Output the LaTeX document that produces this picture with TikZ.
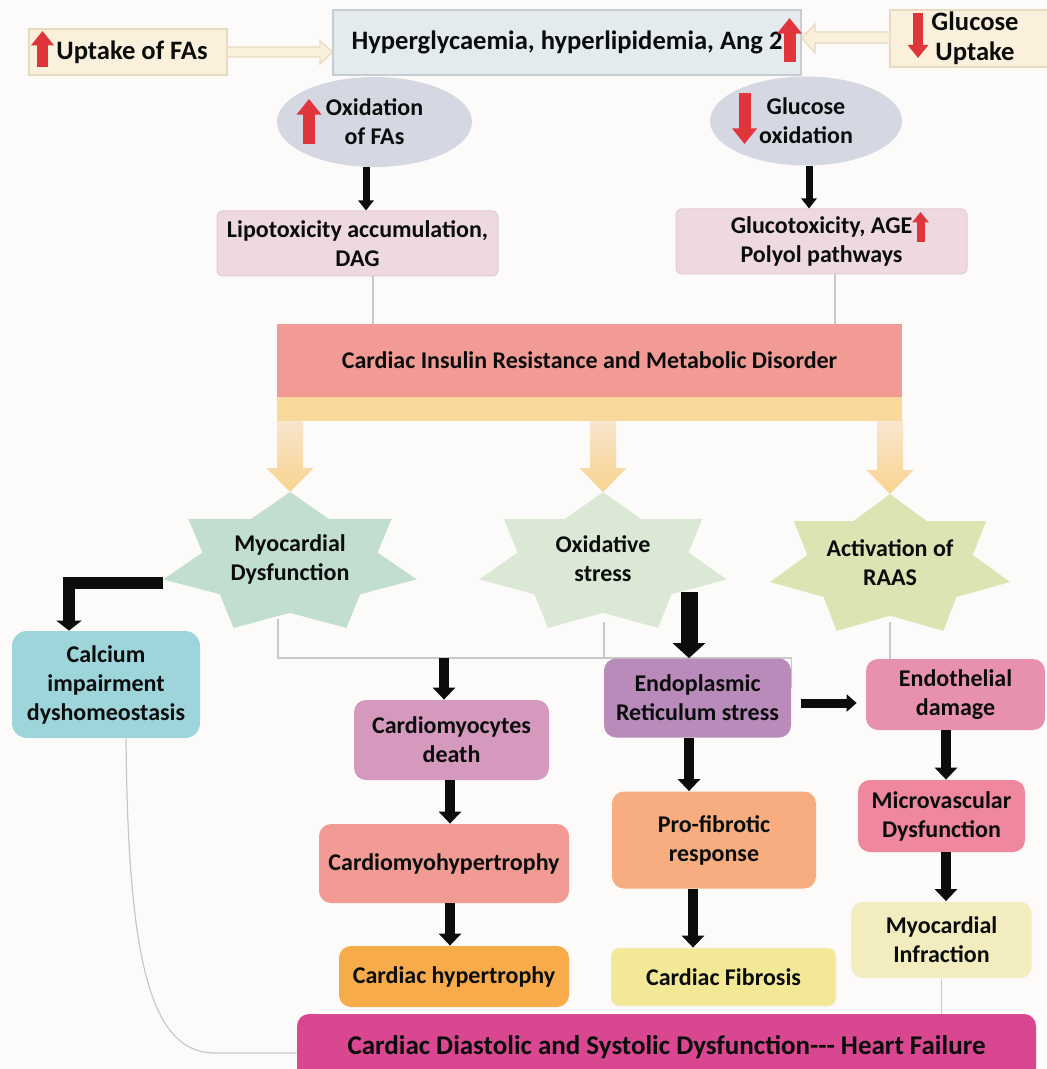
\documentclass[tikz,border=0pt]{standalone}
\usepackage{fontspec}
\setmainfont{Carlito}
\usetikzlibrary{arrows.meta,positioning,calc,shapes.geometric,backgrounds}
\definecolor{ink}{HTML}{0B0D0C}
\definecolor{paper}{HTML}{FCFBF9}
\definecolor{mist}{HTML}{E4EBEE}
\definecolor{mistline}{HTML}{C6CCD0}
\definecolor{cream}{HTML}{FAF0DC}
\definecolor{creamline}{HTML}{E6DBBF}
\definecolor{lilac}{HTML}{D5D8E3}
\definecolor{blush}{HTML}{EDD9DF}
\definecolor{blushline}{HTML}{E2CCD3}
\definecolor{salmon}{HTML}{F29A94}
\definecolor{bandor}{HTML}{F9D89B}
\definecolor{fadeor}{HTML}{F8E6CF}
\definecolor{deepor}{HTML}{F9D38F}
\definecolor{mintstar}{HTML}{C2DED0}
\definecolor{sagestar}{HTML}{DCE8D6}
\definecolor{olivestar}{HTML}{DCE4B4}
\definecolor{aqua}{HTML}{9DD5DB}
\definecolor{orchid}{HTML}{D699BE}
\definecolor{amber}{HTML}{F7AB4A}
\definecolor{plum}{HTML}{B98BBB}
\definecolor{peach}{HTML}{F7AD80}
\definecolor{lemon}{HTML}{F3E895}
\definecolor{rosy}{HTML}{E790B0}
\definecolor{coral}{HTML}{EF889E}
\definecolor{vanilla}{HTML}{F3ECBF}
\definecolor{magenta}{HTML}{D8478F}
\definecolor{alert}{HTML}{E0353B}
\definecolor{feedline}{HTML}{C8C8C8}
\newcommand{\bigfont}{\bfseries\fontsize{13.3}{15}\selectfont}
\newcommand{\midfont}{\bfseries\fontsize{12}{14.5}\selectfont}
% seven pointed star, stretched: fill, centre, x radius, y radius
\newcommand{\heptastar}[4]{%
  \fill[#1,shift={(#2)}] (-90:#3 and #4)
    \foreach \k [evaluate=\k as \fac using {ifthenelse(mod(\k,2)==0,1,0.69)}] in {1,...,13}
      { -- ({-90+\k*180/7}:{\fac*#3} and {\fac*#4}) } -- cycle;}
% broad shaded arrow hanging from the orange band
\newcommand{\fatdown}[1]{%
  \shade[top color=fadeor,bottom color=deepor] (#1) -- ++(-23.5,-24) -- ++(10.5,0) -- ++(0,-50)
    -- ++(26,0) -- ++(0,50) -- ++(10.5,0) -- cycle;}
\tikzset{
  >=Latex,
  every node/.style={font=\bfseries\fontsize{12}{14.5}\selectfont,text=ink,align=center,inner sep=0pt},
  plate/.style={draw=none,rounded corners=6pt},
  oval/.style={ellipse,fill=lilac,draw=none},
  feed/.style={draw=feedline,line width=0.6pt},
  blk/.style={draw=ink,line width=5pt,-{Triangle[width=11pt,length=6pt]}},
  thinblk/.style={draw=ink,line width=3.5pt,-{Triangle[width=7.5pt,length=5pt]}},
  fatblk/.style={draw=ink,line width=8.5pt,-{Triangle[width=16pt,length=7.5pt]}},
  elbowblk/.style={draw=ink,line width=6pt,-{Triangle[width=12.5pt,length=5pt]}},
  sideblk/.style={draw=ink,line width=4.5pt,-{Triangle[width=8.5pt,length=5pt]}},
  upmark/.style={draw=alert,line width=#1,-{Triangle[width=2*#1,length=1.3*#1]}},
  blockarr/.style={fill=cream,draw=creamline,line width=0.6pt}
}
\begin{document}
\begin{tikzpicture}[x=0.5pt,y=-0.5pt]
  \useasboundingbox (0,0) rectangle (1047,1069);

  % inputs
  \node[plate,rounded corners=0pt,fill=mist,draw=mistline,line width=0.7pt,minimum width=234pt,minimum height=32.5pt,font=\bigfont] (hyper) at (567,42.5) {Hyperglycaemia, hyperlipidemia, Ang 2};
  \node[plate,rounded corners=0pt,fill=cream,draw=creamline,line width=0.6pt,minimum width=99pt,minimum height=23pt,font=\bigfont] (upfa) at (128,52) {\hspace*{4pt}Uptake of FAs};
  \node[plate,rounded corners=0pt,fill=cream,draw=creamline,line width=0.6pt,minimum width=85pt,minimum height=28.5pt,font=\bigfont] (glup) at (975,38.5) {Glucose\\Uptake};

  \draw[blockarr] (upfa.east |- 0,47) -- (320,47) -- (320,41) -- (hyper.west |- 0,52) -- (320,64) -- (320,57) -- (upfa.east |- 0,57);
  \draw[blockarr] (glup.west |- 0,32) -- (815,32) -- (815,24) -- (hyper.east |- 0,38) -- (815,53) -- (815,43) -- (glup.west |- 0,43);

  \node[oval,minimum width=97.5pt,minimum height=45pt] (oxfa) at (374.5,122) {Oxidation\\of FAs};
  \node[oval,minimum width=96pt,minimum height=44.5pt] (gox) at (806,121) {Glucose\\oxidation};

  \node[plate,rounded corners=3pt,fill=blush,draw=blushline,line width=0.5pt,minimum width=140.5pt,minimum height=32.5pt] (lipo) at (357.5,243.5) {Lipotoxicity accumulation,\\DAG};
  \node[plate,rounded corners=3pt,fill=blush,draw=blushline,line width=0.5pt,minimum width=145.5pt,minimum height=32.5pt] (gluco) at (821.5,241.5) {Glucotoxicity, AGE\\Polyol pathways};

  \node[plate,rounded corners=0pt,fill=salmon,minimum width=312.5pt,minimum height=36.5pt,font=\midfont] (cir) at (589.5,360.5) {Cardiac Insulin Resistance and Metabolic Disorder};

  % branches
  \coordinate (myoT) at (290,492);
  \coordinate (oxT) at (603,492);
  \coordinate (raasT) at (890,494);
  \fatdown{myoT}
  \fatdown{oxT}
  \fatdown{raasT}
  \fill[bandor] (cir.south west) rectangle ($(cir.south east)+(0,24)$);

  \heptastar{mintstar}{290,563.5}{130}{71.5}
  \heptastar{sagestar}{603,563.5}{127}{71.5}
  \heptastar{olivestar}{890,566}{123}{72}
  \node (myo) at (290,559) {Myocardial\\Dysfunction};
  \node (oxs) at (603,559) {Oxidative\\stress};
  \node (raas) at (890,562.5) {Activation of\\RAAS};
  \coordinate (myoL) at (163,583);
  \coordinate (myoB) at (278,619);
  \coordinate (oxB) at (604,622);
  \coordinate (oxS) at (689,592);
  \coordinate (raasB) at (890,622);
  \coordinate (jn) at (444,658);

  % outcomes
  \node[plate,rounded corners=7.5pt,fill=aqua,minimum width=94pt,minimum height=53.5pt] (calcium) at (106,684.5) {Calcium\\impairment\\dyshomeostasis};
  \node[plate,fill=orchid,minimum width=97.5pt,minimum height=40pt] (cmd) at (451.5,740) {Cardiomyocytes\\death};
  \node[plate,fill=salmon,minimum width=125pt,minimum height=39.5pt] (cmh) at (444,863.5) {Cardiomyohypertrophy};
  \node[plate,fill=amber,minimum width=115pt,minimum height=30.5pt] (chyp) at (454,976.5) {Cardiac hypertrophy};
  \node[plate,fill=plum,minimum width=93.5pt,minimum height=39.5pt] (er) at (697.5,698) {Endoplasmic\\Reticulum stress};
  \node[plate,fill=peach,minimum width=102pt,minimum height=48.5pt] (pfr) at (714,840) {Pro-fibrotic\\response};
  \node[plate,rounded corners=4pt,fill=lemon,draw=lemon!80!black!20,minimum width=112.5pt,minimum height=29pt] (fib) at (723.5,977) {Cardiac Fibrosis};
  \node[plate,fill=rosy,minimum width=89.5pt,minimum height=35.5pt] (endoth) at (955.5,694.5) {Endothelial\\damage};
  \node[plate,fill=coral,minimum width=83.5pt,minimum height=36pt] (mvd) at (941.5,816) {Microvascular\\Dysfunction};
  \node[plate,fill=vanilla,draw=vanilla!85!black!15,minimum width=90.5pt,minimum height=38.5pt] (mi) at (941.5,940) {Myocardial\\Infraction};
  \node[plate,fill=magenta,minimum width=369.5pt,minimum height=33pt,font=\bfseries\fontsize{13.5}{16}\selectfont] (hf) at (666.5,1047) {Cardiac Diastolic and Systolic Dysfunction-{}-{}- Heart Failure};

  % red marks
  \draw[upmark=5.5pt] (42.5,67) -- (42.5,31);
  \draw[upmark=6pt] (789.5,62) -- (789.5,18);
  \draw[upmark=5pt] (918,13) -- (918,58);
  \draw[upmark=6pt] (309,144) -- (309,99);
  \draw[upmark=6pt] (744.5,93) -- (744.5,144);
  \draw[upmark=4pt] (920.5,242) -- (920.5,212);

  % black connectors
  \draw[thinblk] (366,0 |- oxfa.south) -- (366,0 |- lipo.north);
  \draw[thinblk] (809,0 |- gox.south) -- (809,0 |- gluco.north);
  \draw[elbowblk] (myoL) -| (69,0 |- calcium.north);
  \draw[blk] (jn) -- (jn |- cmd.north);
  \draw[fatblk] (oxS) -- (oxS |- er.north);
  \draw[blk] (450,0 |- cmd.south) -- (450,0 |- cmh.north);
  \draw[blk] (450,0 |- cmh.south) -- (450,0 |- chyp.north);
  \draw[blk] (689,0 |- er.south) -- (689,0 |- pfr.north);
  \draw[blk] (693,0 |- pfr.south) -- (693,0 |- fib.north);
  \draw[sideblk] ($(er.east)+(10,5)$) -- ($(endoth.west)+(-9,8.5)$);
  \draw[blk] (946,0 |- endoth.south) -- (946,0 |- mvd.north);
  \draw[blk] (946,0 |- mvd.south) -- (946,0 |- mi.north);

  \begin{scope}[on background layer]
    \fill[paper] (0,0) rectangle (1047,1069);
    \draw[feed] (373,0 |- lipo.south) -- (373,0 |- cir.north);
    \draw[feed] (835,0 |- gluco.south) -- (835,0 |- cir.north);
    \draw[feed] (myoB) |- (oxB |- jn) -- (oxB);
    \draw[feed] (oxB |- jn) -- (er.east |- jn) -- ++(0,30);
    \draw[feed] (raasB) -- (raasB |- endoth.north);
    \draw[feed] (126,0 |- calcium.south) .. controls (128,960) and (150,1053) .. (215,1053) -- ([yshift=-3pt]hf.west);
    \draw[feed] (mi.south) -- (mi.south |- hf.north);
  \end{scope}
\end{tikzpicture}
\end{document}
